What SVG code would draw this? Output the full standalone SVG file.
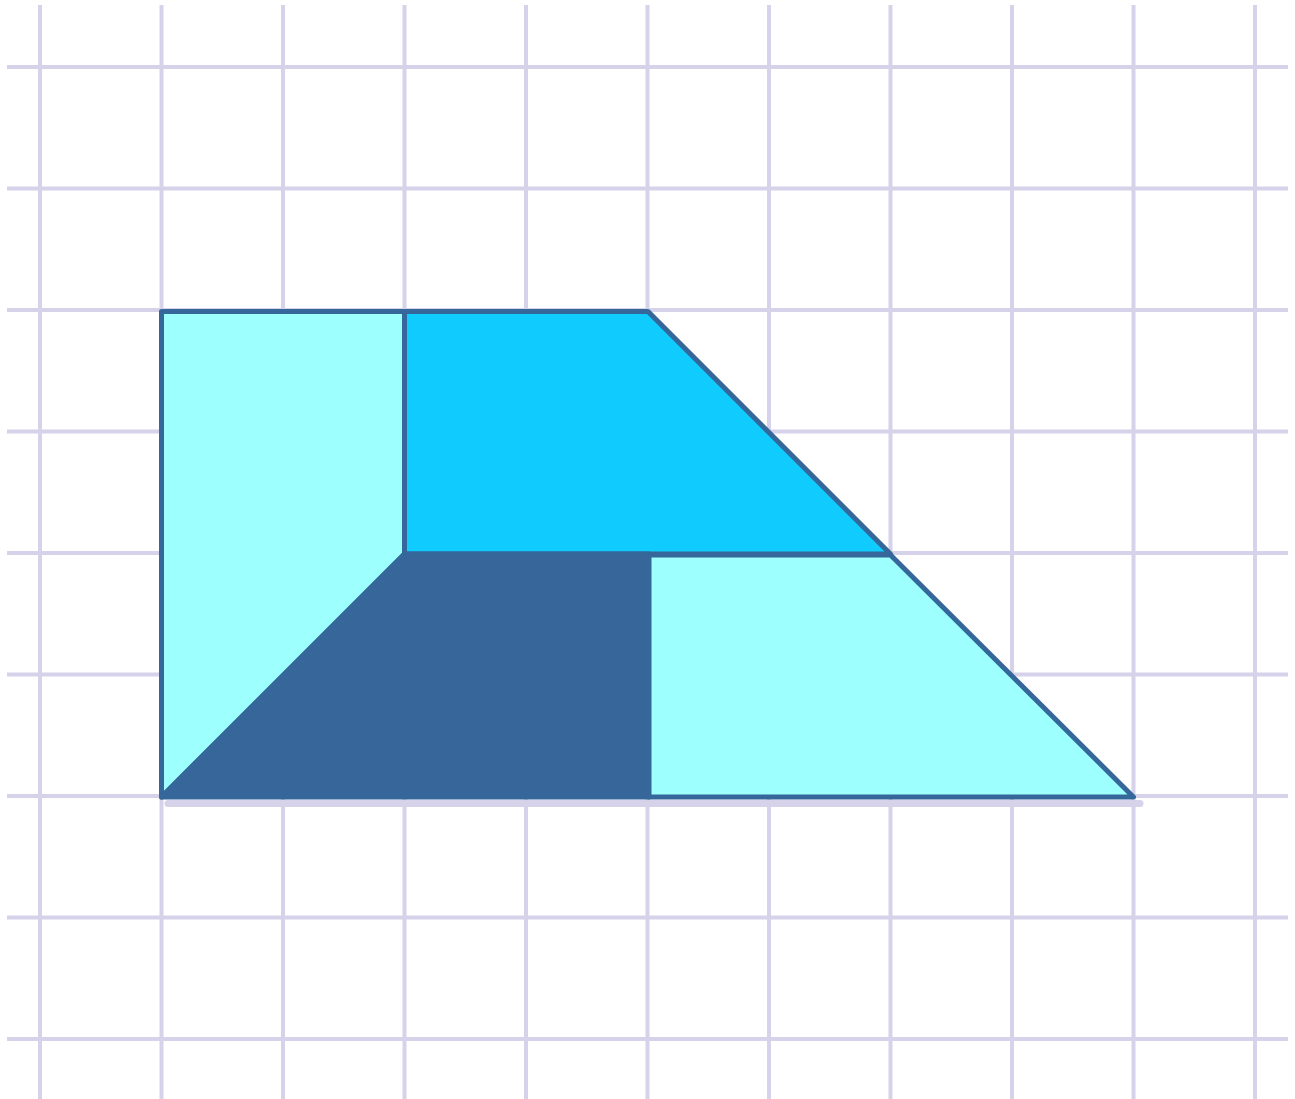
<svg xmlns="http://www.w3.org/2000/svg" width="1295" height="1099" viewBox="0 0 1295 1099">
<style>
.g{stroke:#d6d2e9;stroke-width:4;fill:none}
.s{stroke:#36679a;stroke-width:5;stroke-linejoin:round}
</style>
<rect width="1295" height="1099" fill="#ffffff"/>
<g id="grid">
<path class="g" d="M40 5V1099M161.5 5V1099M283 5V1099M404.5 5V1099M526 5V1099M647.5 5V1099M769 5V1099M890.5 5V1099M1012 5V1099M1133.5 5V1099M1255 5V1099"/>
<path class="g" d="M7 67H1288M7 188.5H1288M7 310H1288M7 431.5H1288M7 553H1288M7 674.5H1288M7 796H1288M7 917.5H1288M7 1039H1288"/>
</g>
<g id="shadow">
<path d="M168 803.5H1140" stroke="#d6d2e9" stroke-width="7" stroke-linecap="round"/>
</g>
<g id="left-piece">
<polygon class="s" points="161.5,311.5 404.5,311.5 404.5,554 161.5,797" fill="#9effff"/>
</g>
<g id="top-piece">
<polygon class="s" points="404.5,311.5 648,311.5 890.5,554 404.5,554" fill="#10cbfd"/>
</g>
<g id="dark-piece">
<polygon class="s" points="404.5,554 649,554 649,797 161.5,797" fill="#37679a"/>
</g>
<g id="right-piece">
<polygon class="s" points="649,555 890.5,555 1133.5,797 649,797" fill="#9effff"/>
</g>
</svg>
